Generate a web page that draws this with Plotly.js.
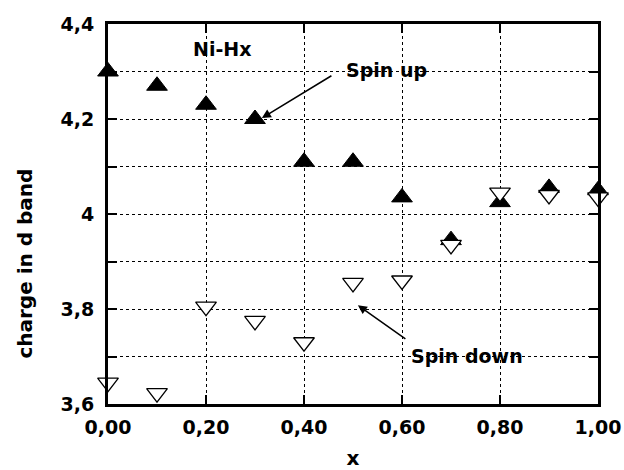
<!DOCTYPE html>
<html>
<head>
<meta charset="utf-8">
<script src="https://cdn.plot.ly/plotly-3.0.1.min.js"></script>
<style>html,body{margin:0;padding:0;background:#fff;}#chart{width:624px;height:470px;}</style>
</head>
<body>
<div id="chart"></div>
<script>
const xValues = [0, 0.1, 0.2, 0.3, 0.4, 0.5, 0.6, 0.7, 0.8, 0.9, 1.0];
const spinUp = [4.30, 4.27, 4.23, 4.20, 4.11, 4.11, 4.035, 3.945, 4.025, 4.055, 4.05];
const spinDown = [3.645, 3.623, 3.805, 3.775, 3.73, 3.855, 3.86, 3.935, 4.045, 4.04, 4.035];
const xTickVals = [0, 0.2, 0.4, 0.6, 0.8, 1.0];
const xTickText = ["0,00", "0,20", "0,40", "0,60", "0,80", "1,00"];
const yTickVals = [3.6, 3.7, 3.8, 3.9, 4.0, 4.1, 4.2, 4.3, 4.4];
const yTickText = ["3,6", "", "3,8", "", "4", "", "4,2", "", "4,4"];

const FONT = "'DejaVu Sans', Arial, sans-serif";

const traces = [
  {
    x: xValues, y: spinUp, type: 'scatter', mode: 'markers', name: 'Spin up',
    cliponaxis: false,
    marker: {symbol: 'triangle-up', size: 18, color: '#000', line: {color: '#000', width: 1}}
  },
  {
    x: xValues, y: spinDown, type: 'scatter', mode: 'markers', name: 'Spin down',
    cliponaxis: false,
    marker: {symbol: 'triangle-down', size: 18, color: '#fff', line: {color: '#000', width: 1.3}}
  }
];

const axisCommon = {
  showline: true, linecolor: '#000', linewidth: 3, mirror: 'ticks',
  ticks: 'inside', ticklen: 9, tickwidth: 2, tickcolor: '#000',
  showgrid: true, gridcolor: '#000', gridwidth: 1, griddash: 'dot',
  zeroline: false,
  tickfont: {family: FONT, size: 19, color: '#000', weight: 'bold'}
};

const layout = {
  width: 624, height: 470,
  margin: {l: 108, r: 26, t: 24, b: 66},
  paper_bgcolor: '#fff', plot_bgcolor: '#fff',
  showlegend: false,
  font: {family: FONT, color: '#000'},
  xaxis: Object.assign({}, axisCommon, {
    range: [0, 1], tickmode: 'array', tickvals: xTickVals, ticktext: xTickText,
    ticklabelstandoff: 4,
    title: {text: 'x', font: {family: FONT, size: 20, color: '#000', weight: 'bold'}, standoff: 16}
  }),
  yaxis: Object.assign({}, axisCommon, {
    range: [3.6, 4.4], tickmode: 'array', tickvals: yTickVals, ticktext: yTickText,
    ticklabelstandoff: 7
  }),
  annotations: [
    {x: -0.169, y: 0.370, xref: 'paper', yref: 'paper', xanchor: 'center', yanchor: 'middle',
     text: 'charge in d band', textangle: -90, showarrow: false,
     font: {family: FONT, size: 20, color: '#000', weight: 'bold'}},
    {x: 0.233, y: 4.347, xref: 'x', yref: 'y', text: 'Ni-Hx', showarrow: false,
     font: {family: FONT, size: 19, color: '#000', weight: 'bold'}},
    {x: 0.569, y: 4.303, xref: 'x', yref: 'y', text: 'Spin up', showarrow: false,
     font: {family: FONT, size: 19, color: '#000', weight: 'bold'}},
    {x: 0.314, y: 4.202, xref: 'x', yref: 'y', ax: 0.459, ay: 4.293, axref: 'x', ayref: 'y',
     text: '', showarrow: true, arrowhead: 2, arrowsize: 1.2, arrowwidth: 1.5, arrowcolor: '#000'},
    {x: 0.733, y: 3.701, xref: 'x', yref: 'y', text: 'Spin down', showarrow: false,
     font: {family: FONT, size: 19, color: '#000', weight: 'bold'}},
    {x: 0.510, y: 3.808, xref: 'x', yref: 'y', ax: 0.610, ay: 3.735, axref: 'x', ayref: 'y',
     text: '', showarrow: true, arrowhead: 2, arrowsize: 1.2, arrowwidth: 1.5, arrowcolor: '#000'}
  ]
};

Plotly.newPlot('chart', traces, layout, {displayModeBar: false, staticPlot: true});
</script>
</body>
</html>
